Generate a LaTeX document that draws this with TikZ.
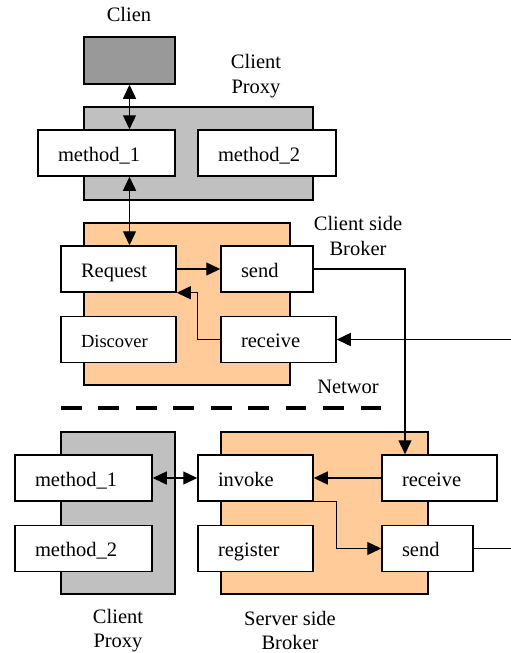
\documentclass[tikz,border=0pt]{standalone}
\usepackage{fontspec}
\setmainfont{Liberation Serif}
\usetikzlibrary{arrows.meta}
\definecolor{clientgray}{HTML}{999999}
\definecolor{proxygray}{HTML}{C0C0C0}
\definecolor{brokerorange}{HTML}{FFCC99}
\tikzset{
  frame/.style={draw, line width=1.5pt, inner sep=0pt},
  box/.style={draw, fill=white, line width=1.5pt, inner xsep=20pt, inner ysep=0pt,
    minimum height=46pt, text height=16pt, text depth=0pt,
    align=left, font=\fontsize{20.5}{25}\selectfont},
  lbl/.style={align=center, inner sep=0pt, font=\fontsize{20.5}{24.5}\selectfont},
  conn/.style={line width=1.4pt},
  tip/.tip={Triangle[length=14pt,width=13pt]},
  one/.style={conn, -tip},
  two/.style={conn, tip-tip},
}
\begin{document}
\begin{tikzpicture}[x=1pt,y=-1pt]
\useasboundingbox (0,0) rectangle (511,653);

% client side
\node[frame, fill=clientgray, minimum width=91pt, minimum height=47pt] (client) at (129.5,60.5) {};
\node[lbl] (clientlbl) at (129,14) {Clien};
\node[frame, fill=proxygray, minimum width=229pt, minimum height=93pt] (cproxy) at (198.5,153.5) {};
\node[lbl] (cproxylbl) at (256,76) {Client\\Proxy};
\node[box, text width=97pt] (m1) at (106.5,153) {method\_1};
\node[box, text width=98pt] (m2) at (267,153) {method\_2};

\node[frame, fill=brokerorange, minimum width=206pt, minimum height=162pt] (cbroker) at (187,304) {};
\node[lbl] (cbrokerlbl) at (358,236) {Client side\\Broker};
\node[box, text width=75pt] (req) at (118.5,269) {Request};
\node[box, text width=52pt] (csend) at (267,269) {send};
\node[box, text width=75pt, text height=15pt, font=\fontsize{18.5}{22}\selectfont] (disc) at (118.5,339.5) {Discover};
\node[box, text width=75pt] (crecv) at (278.5,339.5) {receive};

% network boundary
\node[lbl, anchor=base] (netlbl) at (348,393) {Networ};
\coordinate (dashL) at (61,408);
\coordinate (dashR) at (381,408);
\draw[line width=4pt, dash pattern=on 20.7pt off 16.75pt] (dashL) -- (dashR);

% server side
\node[frame, fill=proxygray, minimum width=114pt, minimum height=162pt] (sproxy) at (118,513) {};
\node[box, text width=97pt] (sm1) at (83.5,478) {method\_1};
\node[box, text width=97pt] (sm2) at (83.5,548.5) {method\_2};
\node[lbl] (sproxylbl) at (118,630.5) {Client\\Proxy};

\node[frame, fill=brokerorange, minimum width=207pt, minimum height=162pt] (sbroker) at (324.5,513) {};
\node[box, text width=75pt] (inv) at (255.5,478) {invoke};
\node[box, text width=75pt] (reg) at (255.5,548.5) {register};
\node[box, text width=75pt] (srecv) at (439.5,478) {receive};
\node[box, text width=51pt] (ssend) at (427.5,548.5) {send};
\node[lbl] (sbrokerlbl) at (290,630.5) {Server side\\Broker};

\coordinate (netin) at (511,339.5);
\coordinate (netout) at (511,548.5);

% connectors
\draw[two] (client.south) -- (client.south |- m1.north);
\draw[two] (client.south |- m1.south) -- (client.south |- req.north);
\draw[one] (req) -- (csend);
\draw[one] (crecv.west) -- ++(-23,0) |- (req.south east);
\draw[one] (csend.east) -| ([xshift=-34.5pt]srecv.north);
\draw[one] (netin) -- (crecv.east);
\draw[two] (sm1.east) -- (inv.west);
\draw[one] (srecv.west) -- (inv.east);
\draw[one] (inv.south east) -- ++(23,0) |- (ssend.west);
\draw[conn] (ssend.east) -- (netout);
\end{tikzpicture}
\end{document}
